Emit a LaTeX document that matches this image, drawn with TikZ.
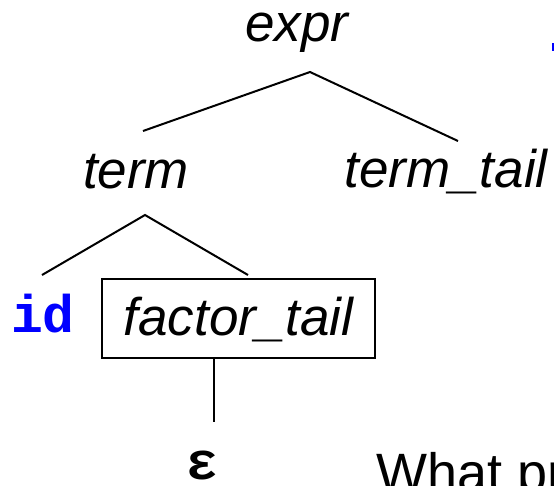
\documentclass[tikz,border=0pt]{standalone}
\usepackage{fontspec}
\setmainfont{Liberation Sans}
\setmonofont{Liberation Mono}
\tikzset{
  lbl/.style={font=\fontsize{53}{60}\selectfont\itshape, inner sep=0pt, anchor=base},
  plain/.style={font=\fontsize{54}{60}\selectfont, inner sep=0pt, anchor=base west},
  tok/.style={font=\fontsize{53}{60}\selectfont\ttfamily\bfseries, inner sep=0pt, anchor=base},
  boxed/.style={lbl, draw, line width=2pt, minimum width=273pt, text height=56pt, text depth=23pt},
  edge/.style={line width=2pt},
}
\begin{document}
\begin{tikzpicture}[x=1pt,y=-1pt]
\useasboundingbox (0,0) rectangle (554,485);
\node[lbl] (expr) at (297,41) {expr};
\node[lbl] (term) at (136,188) {term};
\node[lbl] (termtail) at (446,187) {term\_tail};
\node[tok, text=blue] (id) at (43,332) {id};
\node[boxed] (ftail) at (238.5,335) {factor\_tail};
\node[tok, text height=24pt, text depth=0pt] (eps) at (202,479) {ε};
\node[plain] (what) at (376,491) {What pr};
\fill[blue] (552,43) rectangle (555,51);
% junction points
\coordinate (exprj) at (310,72);
\coordinate (termj) at (143,131);
\coordinate (ttailj) at (458,141);
\coordinate (termb) at (145,215);
\coordinate (idj) at (42,275);
\coordinate (ftj) at (248,275);
\coordinate (epsj) at (214,422);
\draw[edge] (termj) -- (exprj) -- (ttailj);
\draw[edge] (idj) -- (termb) -- (ftj);
\draw[edge] (ftail.south -| epsj) -- (epsj);
\end{tikzpicture}
\end{document}
